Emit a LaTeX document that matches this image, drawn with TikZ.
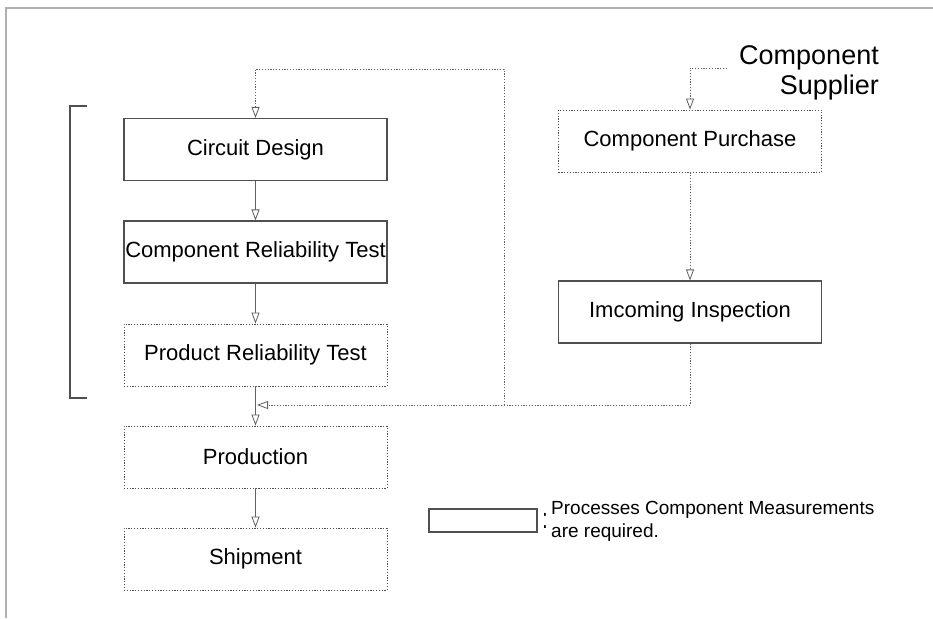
\documentclass[tikz,border=0pt]{standalone}
\usepackage{fontspec}
\setmainfont{Liberation Sans}
\usetikzlibrary{arrows.meta}
\definecolor{boxline}{HTML}{505050}
\definecolor{arrline}{HTML}{606060}
\definecolor{framegray}{HTML}{B0B0B0}
\tikzset{
  boxbase/.style={rectangle, minimum width=263pt, minimum height=62pt, inner sep=0pt,
    font=\fontsize{22}{26}\selectfont, text=black},
  solidbox/.style={boxbase, draw=boxline, line width=1.1pt},
  dotbox/.style={boxbase, draw=boxline, line width=0.9pt, dash pattern=on 1.2pt off 1.6pt},
  tip/.tip={Triangle[open, length=11pt, width=8pt, line width=0.8pt, fill=white]},
  solidarrow/.style={draw=arrline, line width=0.9pt, -tip},
  dotarrow/.style={draw=arrline, line width=0.9pt, dash pattern=on 1.2pt off 1.6pt, -tip},
  dotline/.style={draw=arrline, line width=0.9pt, dash pattern=on 1.2pt off 1.6pt},
  frameline/.style={draw=framegray, line width=2pt},
  bracket/.style={draw=boxline, line width=1.1pt}
}
\begin{document}
\begin{tikzpicture}[x=1pt,y=-1pt]
\useasboundingbox (0,0) rectangle (933,618);
% frame
\coordinate (f1) at (6,618);
\coordinate (f2) at (6,8);
\coordinate (f3) at (933,8);
\draw[frameline] (f1) -- (f2) -- (f3);

% left column
\node[solidbox] (cd)   at (255.5,149.5) {Circuit Design};
\node[solidbox] (crt)  at (255.5,252)   {Component Reliability Test};
\node[dotbox]   (prt)  at (255.5,355)   {Product Reliability Test};
\node[dotbox]   (prod) at (255.5,457)   {Production};
\node[dotbox]   (ship) at (255.5,559)   {Shipment};

% right column
\node[dotbox]   (cp)   at (690,141)     {Component Purchase};
\node[solidbox] (insp) at (690,312)     {Imcoming Inspection};

% supplier
\node[anchor=north east, inner sep=0pt, align=right,
      font=\fontsize{27}{30}\selectfont] (sup) at (879,45) {Component\\Supplier};
\coordinate (s0) at (727,68);
\draw[dotarrow] (s0) -| (cp.north);

% bracket
\coordinate (b1) at (87,106);
\coordinate (b2) at (70,106);
\coordinate (b3) at (70,398);
\coordinate (b4) at (87,398);
\draw[bracket] (b1) -- (b2) -- (b3) -- (b4);

% main flow
\draw[solidarrow] (cd) -- (crt);
\draw[solidarrow] (crt) -- (prt);
\draw[solidarrow] (prt) -- (prod);
\draw[solidarrow] (prod) -- (ship);

\draw[dotarrow] (cp) -- (insp);

% merge and feedback
\coordinate (m) at (257,405);
\coordinate (j) at (504,405);
\coordinate (tr) at (504,69);
\draw[dotarrow] (insp.south) |- (m);
\draw[dotarrow] (j) -- (tr) -| (cd.north);

% legend
\node[solidbox, minimum width=108pt, minimum height=23pt] (leg) at (483,520.5) {};
\node[inner sep=0pt, font=\fontsize{19}{23}\selectfont, yscale=1.5] (colon) at (545,521) {:};
\node[anchor=west, inner sep=0pt, align=left, font=\fontsize{19}{23}\selectfont] (legt) at (551,521)
  {Processes Component Measurements\\are required.};
\end{tikzpicture}
\end{document}
